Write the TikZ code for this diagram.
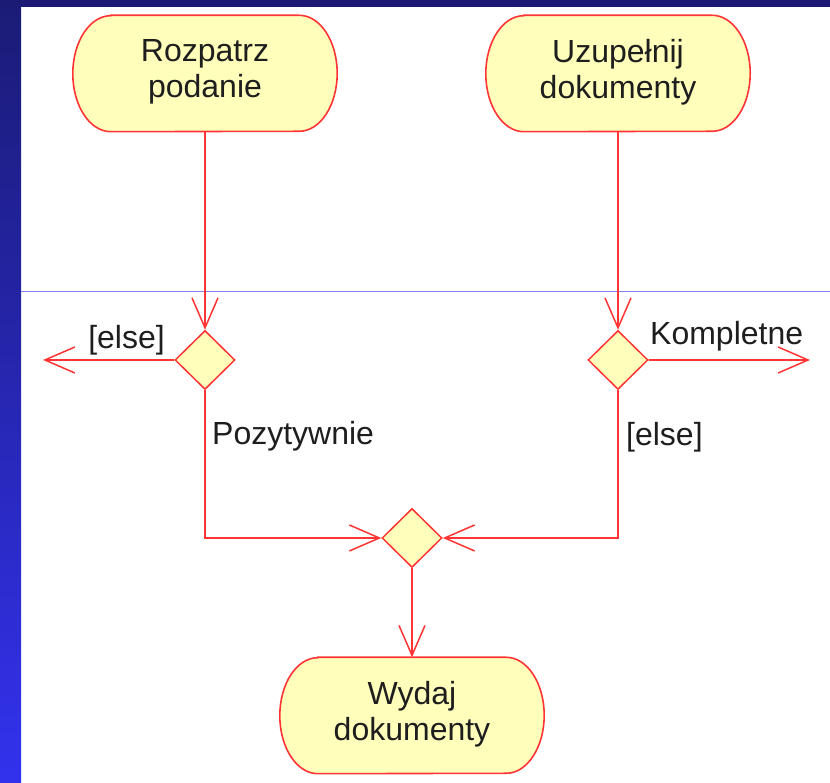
\documentclass[tikz,border=0pt]{standalone}
\usepackage{fontspec}
\setmainfont{Liberation Sans}
\usetikzlibrary{shapes.geometric,arrows.meta,calc}
\pgfdeclarelayer{bg}
\pgfdeclarelayer{shapes}
\pgfsetlayers{bg,shapes,main}
\definecolor{lnred}{HTML}{FF3434}
\definecolor{actfill}{HTML}{FFFFBB}
\definecolor{navy}{HTML}{1B1B76}
\definecolor{brightblue}{HTML}{3232EE}
\definecolor{sepline}{HTML}{7F7FEE}
\definecolor{txt}{HTML}{1E1E1E}
\newcommand\actoutline[1]{%
  \begin{pgfonlayer}{shapes}
  \draw[actline] ($(#1.north west)+(38,0)$) -- ($(#1.north east)+(-38,0)$)
    arc[start angle=90,end angle=-90,x radius=38pt,y radius=58pt]
    -- ($(#1.south west)+(38,0)$)
    arc[start angle=270,end angle=90,x radius=38pt,y radius=58pt] -- cycle;
  \end{pgfonlayer}}
\newcommand\acttext[1]{\parbox[c][116pt][t]{260pt}{\centering\vspace*{24pt}#1}}
\tikzset{
  txtstyle/.style={text=txt,inner sep=0pt,font=\fontsize{32}{36}\selectfont},
  act/.style={txtstyle,shape=rectangle,minimum width=264pt,minimum height=116pt},
  actline/.style={draw=lnred,fill=actfill,line width=1.6pt},
  decision/.style={shape=diamond,draw=lnred,fill=actfill,line width=1.5pt,inner sep=0pt,minimum width=60pt,minimum height=59pt},
  flow/.style={draw=lnred,line width=1.5pt,-{Straight Barb[length=30pt,width=26pt]}},
  lbl/.style={txtstyle},
}
\begin{document}
\begin{tikzpicture}[x=1pt,y=1pt]
\useasboundingbox (0,0) rectangle (830,783);
\begin{pgfonlayer}{bg}
\fill[white] (0,0) rectangle (830,783);
\shade[top color=navy,bottom color=brightblue] (0,0) rectangle (21,783);
\fill[navy] (0,776) rectangle (830,783);
\draw[sepline,line width=1pt] (21,491) -- (830,491);
\end{pgfonlayer}

\node[act] (r) at (205,709.5) {\acttext{Rozpatrz\\podanie}};
\actoutline{r}
\node[act] (u) at (618,709.5) {\acttext{Uzupełnij\\dokumenty}};
\actoutline{u}
\node[act] (w) at (412,67.5) {\acttext{Wydaj\\dokumenty}};
\actoutline{w}

\node[decision] (d1) at (205,423) {};
\node[decision] (d2) at (618,423) {};
\node[decision] (d3) at (412,245) {};

\coordinate (lend) at (43,423);
\coordinate (rend) at (810,423);

\draw[flow] (r.south) -- (d1.north);
\draw[flow] (u.south) -- (d2.north);
\draw[flow] (d1.west) -- (lend);
\draw[flow] (d2.east) -- (rend);
\draw[flow] (d1.south) |- (d3.west);
\draw[flow] (d2.south) |- (d3.east);
\draw[flow] (d3.south) -- (w.north);

\node[lbl,anchor=base] (l1) at (126.5,434) {[else]};
\node[lbl,anchor=base west] (l2) at (650,438) {Kompletne};
\node[lbl,anchor=base west] (l3) at (212,338) {Pozytywnie};
\node[lbl,anchor=base west] (l4) at (626,337) {[else]};
\end{tikzpicture}
\end{document}
